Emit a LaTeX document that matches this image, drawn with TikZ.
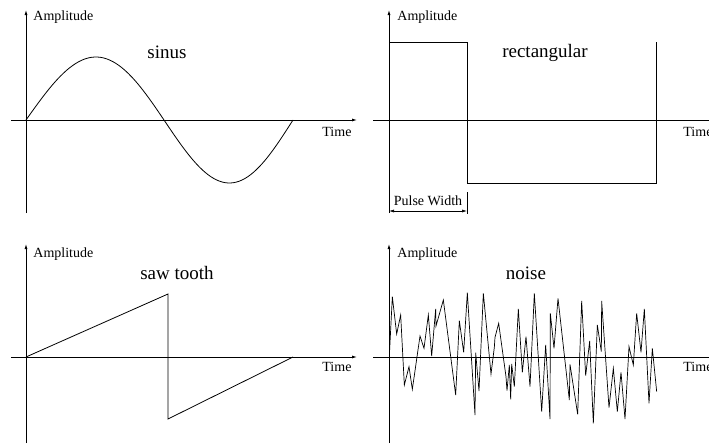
\documentclass[tikz,border=0pt]{standalone}
\usepackage{fontspec}
\setmainfont{Liberation Serif}
\usetikzlibrary{arrows.meta}
\begin{document}
\begin{tikzpicture}[x=1pt,y=-1pt, line width=0.8pt,
  axisarrow/.style={-{Latex[length=5pt,width=3pt]}},
  dimarrow/.style={{Latex[length=5pt,width=3pt]}-{Latex[length=5pt,width=3pt]}},
  lbl/.style={font=\fontsize{14}{16}\selectfont, inner sep=0pt, anchor=west},
  ttl/.style={font=\fontsize{19}{21}\selectfont, inner sep=0pt},
  sig/.style={line width=0.8pt, line join=miter}]
\useasboundingbox (0,0) rectangle (709,447);

% ---------- top left: sinus ----------
\coordinate (tlyb) at (26,213); \coordinate (tlyt) at (26,10);
\coordinate (tlxl) at (11,120); \coordinate (tlxr) at (357,120);
\draw[axisarrow] (tlyb) -- (tlyt);
\draw[axisarrow] (tlxl) -- (tlxr);
\node[lbl] (tlamp) at (33,17) {Amplitude};
\node[lbl] (tltime) at (322,132) {Time};
\node[ttl] (sinus) at (167,52) {sinus};
\draw[sig] plot[domain=0:360,samples=91,smooth] ({26+\x/360*267+4.5*sin(\x/2)},{120-63*sin(\x)});

% ---------- top right: rectangular ----------
\coordinate (tryb) at (389,213); \coordinate (tryt) at (389,10);
\coordinate (trxl) at (373,120); \coordinate (trxr) at (719,120);
\draw[axisarrow] (tryb) -- (tryt);
\draw[axisarrow] (trxl) -- (trxr);
\node[lbl] (tramp) at (397,17) {Amplitude};
\node[lbl] (trtime) at (683,132) {Time};
\node[ttl] (rect) at (545,53) {rectangular};
\coordinate (r1) at (389,42); \coordinate (r2) at (467,42);
\coordinate (r3) at (467,183); \coordinate (r4) at (656,183);
\coordinate (r5) at (656,42);
\draw[sig] (r1) -- (r2) -- (r3) -- (r4) -- (r5);
\coordinate (pt1) at (467,192); \coordinate (pt2) at (467,214);
\draw (pt1) -- (pt2);
\coordinate (pa1) at (389,211); \coordinate (pa2) at (467,211);
\draw[dimarrow, line width=0.6pt] (pa1) -- (pa2);
\node[font=\fontsize{14}{16}\selectfont, inner sep=0pt] (pw) at (428,201) {Pulse Width};

% ---------- bottom left: saw tooth ----------
\coordinate (blyb) at (26,443); \coordinate (blyt) at (26,244);
\coordinate (blxl) at (11,357); \coordinate (blxr) at (357,357);
\draw[axisarrow] (blyb) -- (blyt);
\draw[axisarrow] (blxl) -- (blxr);
\node[lbl] (blamp) at (33,254) {Amplitude};
\node[lbl] (bltime) at (322,367) {Time};
\node[ttl] (saw) at (177,273) {saw tooth};
\coordinate (s1) at (26,357); \coordinate (s2) at (168,294);
\coordinate (s3) at (168,419); \coordinate (s4) at (293,357);
\draw[sig] (s1) -- (s2) -- (s3) -- (s4);

% ---------- bottom right: noise ----------
\coordinate (bryb) at (389,443); \coordinate (bryt) at (389,244);
\coordinate (brxl) at (373,357); \coordinate (brxr) at (719,357);
\draw[axisarrow] (bryb) -- (bryt);
\draw[axisarrow] (brxl) -- (brxr);
\node[lbl] (bramp) at (397,254) {Amplitude};
\node[lbl] (brtime) at (683,367) {Time};
\node[ttl] (noise) at (526,273) {noise};
\begin{scope}[shift={(360,230)}, x=0.333333pt, y=-0.333333pt]
\draw[sig, line width=0.7pt] (88,378) -- (97,200) -- (110,312) -- (122,255) -- (133,465) -- (147,410) -- (157,478) -- (180,318) -- (192,355) -- (205,255) -- (215,378) -- (227,237) -- (228,288) -- (250,210) -- (287,495) -- (298,272) -- (311,367) -- (322,188) -- (345,555) -- (347,368) -- (357,483) -- (370,190) -- (393,432) -- (403,352) -- (405,322) -- (416,280) -- (438,440) -- (441,482) -- (448,405) -- (452,508) -- (455,402) -- (463,470) -- (475,237) -- (487,427) -- (498,320) -- (510,470) -- (523,190) -- (545,545) -- (557,345) -- (570,567) -- (571,250) -- (582,355) -- (594,205) -- (628,510) -- (630,403) -- (653,553) -- (665,213) -- (677,437) -- (689,333) -- (700,580) -- (712,285) -- (724,365) -- (725,213) -- (747,533) -- (760,415) -- (772,545) -- (783,427) -- (795,567) -- (807,350) -- (820,405) -- (830,250) -- (843,367) -- (853,237) -- (867,520) -- (877,355) -- (890,485);
\end{scope}
\end{tikzpicture}
\end{document}
